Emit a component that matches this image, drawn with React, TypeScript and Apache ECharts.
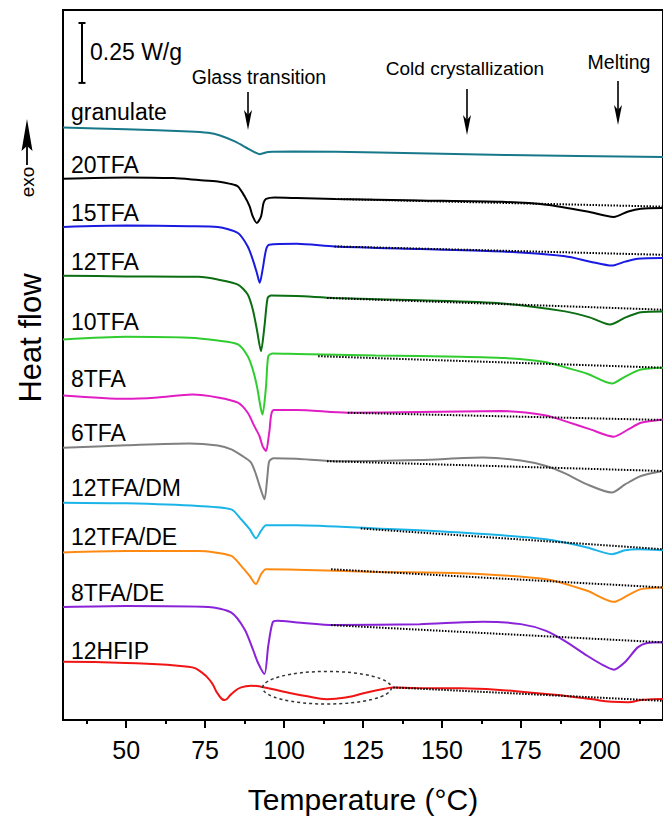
import React, { useEffect, useRef } from "react";
import * as echarts from "echarts";

// Heat flow (W/g, curves offset for display) versus temperature (°C)
const sampleNames = ["granulate", "20TFA", "15TFA", "12TFA", "10TFA", "8TFA", "6TFA", "12TFA/DM", "12TFA/DE", "8TFA/DE", "12HFIP"];
const sampleColors = ["#17788a", "#000000", "#1a1ae0", "#0b6e12", "#30cc30", "#e01ec4", "#808080", "#1ab4e8", "#ff8a12", "#8a22d8", "#f01414"];
const labelY = [112, 165, 213, 262, 322, 379, 433, 488, 537, 593, 651];

const granulate = [[30, 2.472], [50, 2.465], [70, 2.456], [76, 2.45], [79.5, 2.44], [84.4, 2.414], [89.7, 2.376], [92.3, 2.361], [95, 2.37], [103, 2.372], [130, 2.368], [170, 2.358], [220, 2.349]];
const tfa20 = [[30, 2.258], [50, 2.264], [65, 2.261], [73, 2.253], [79, 2.247], [83, 2.237], [85.4, 2.226], [87.5, 2.185], [89.1, 2.143], [90.1, 2.101], [91.4, 2.074], [92.7, 2.101], [93.5, 2.157], [94.3, 2.174], [97, 2.18], [104, 2.178], [116, 2.174], [143, 2.168], [169, 2.162], [183, 2.15], [196, 2.122], [204.4, 2.099], [209, 2.122], [213, 2.133], [220, 2.136]];
const tfa15 = [[30, 2.057], [50, 2.063], [70, 2.06], [79, 2.057], [85.4, 2.032], [88.5, 1.976], [90.1, 1.921], [91.4, 1.865], [92.3, 1.824], [93.2, 1.879], [94.3, 1.9625], [95.3, 1.983], [104, 1.9875], [116, 1.976], [143, 1.965], [169, 1.955], [189, 1.935], [197, 1.9125], [203.8, 1.896], [208, 1.9125], [212, 1.925], [220, 1.928]];
const tfa12 = [[30, 1.854], [50, 1.851], [72.8, 1.849], [79, 1.838], [85.4, 1.817], [88.5, 1.775], [90.1, 1.7125], [91.4, 1.629], [92.7, 1.539], [93.8, 1.643], [94.8, 1.761], [95.9, 1.771], [104, 1.769], [116, 1.761], [143, 1.751], [169, 1.738], [189, 1.705], [197, 1.679], [203.2, 1.65], [208, 1.679], [213, 1.701], [220, 1.705]];
const tfa10 = [[30, 1.588], [50, 1.599], [70, 1.595], [79, 1.583], [85.4, 1.567], [88.5, 1.518], [90.1, 1.4625], [91.4, 1.393], [92.7, 1.296], [93.2, 1.275], [94.3, 1.393], [95, 1.518], [96.4, 1.529], [104, 1.527], [129, 1.521], [156, 1.516], [170, 1.51], [183, 1.493], [190, 1.468], [196, 1.445], [203.8, 1.404], [208, 1.433], [213, 1.4625], [220, 1.47]];
const tfa8 = [[30, 1.354], [50, 1.34], [60, 1.346], [71, 1.358], [79, 1.346], [85.4, 1.324], [88.5, 1.282], [90.6, 1.226], [92.2, 1.185], [93.2, 1.143], [94.3, 1.122], [95.3, 1.199], [96.7, 1.293], [104, 1.294], [120, 1.282], [143, 1.285], [169, 1.289], [183, 1.271], [189, 1.247], [197, 1.2125], [204.4, 1.182], [209, 1.2125], [213, 1.24], [220, 1.254]];
const tfa6 = [[30, 1.136], [50, 1.146], [70, 1.154], [79, 1.145], [83.3, 1.129], [87, 1.1], [89.5, 1.075], [91, 1.029], [92.3, 0.975], [93.8, 0.921], [94.7, 1.0125], [95.3, 1.079], [96.7, 1.092], [104, 1.09], [116, 1.08], [143, 1.085], [163, 1.095], [175, 1.083], [183, 1.06], [189, 1.029], [196, 0.983], [203.8, 0.949], [208, 0.983], [213, 1.018], [220, 1.039]];
const tfa12dm = [[30, 0.907], [50, 0.904], [72.8, 0.893], [83.3, 0.879], [86.4, 0.8375], [89.1, 0.796], [91.1, 0.758], [92.7, 0.789], [94.3, 0.8125], [104, 0.8125], [129, 0.799], [156, 0.782], [183, 0.754], [196, 0.72], [203.8, 0.692], [208, 0.708], [212, 0.7125], [220, 0.708]];
const tfa12de = [[30, 0.699], [50, 0.705], [72.8, 0.705], [83.3, 0.685], [86.4, 0.643], [89.1, 0.601], [91.1, 0.567], [92.7, 0.608], [94.3, 0.629], [104, 0.627], [129, 0.618], [156, 0.6125], [183, 0.5875], [196, 0.539], [204.4, 0.493], [209, 0.521], [213, 0.546], [220, 0.553]];
const tfa8de = [[30, 0.472], [50, 0.476], [76, 0.472], [83.2, 0.449], [87.5, 0.379], [90.1, 0.296], [91.7, 0.24], [93.8, 0.192], [95, 0.31], [96.4, 0.407], [97.9, 0.414], [104.2, 0.407], [116, 0.396], [143, 0.4], [163, 0.41], [175, 0.4], [183, 0.372], [189, 0.329], [196, 0.268], [201, 0.229], [204.4, 0.21], [208, 0.242], [212, 0.303], [215, 0.321], [220, 0.324]];
const hfip12 = [[30, 0.243], [50, 0.2375], [69.7, 0.222], [73.9, 0.199], [77, 0.157], [79.1, 0.108], [81.2, 0.083], [83.3, 0.108], [86.4, 0.136], [89.6, 0.143], [92.7, 0.139], [101.1, 0.115], [107.4, 0.099], [113.6, 0.087], [119.9, 0.095], [126.2, 0.115], [132.5, 0.132], [134.6, 0.136], [141.9, 0.133], [156, 0.132], [183, 0.108], [197, 0.0875], [203.8, 0.076], [209, 0.074], [213, 0.083], [220, 0.0875]];

const curves = [granulate, tfa20, tfa15, tfa12, tfa10, tfa8, tfa6, tfa12dm, tfa12de, tfa8de, hfip12];
const curveSmoothing = [0.25, 0.25, 0.25, 0.25, 0.25, 0.25, 0.25, 0.25, 0.25, 0.25, 0.5];

// dotted baselines (tangents) drawn under the crystallization / melting regions
const baseline20 = [[116, 2.174], [220, 2.142]];
const baseline15 = [[116, 1.976], [220, 1.941]];
const baseline12 = [[113.6, 1.761], [220, 1.712]];
const baseline10 = [[110.8, 1.518], [220, 1.47]];
const baseline8 = [[120.2, 1.282], [220, 1.252]];
const baseline6 = [[113.6, 1.08], [220, 1.039]];
const baseline12dm = [[124.3, 0.799], [220, 0.7125]];
const baseline12de = [[114.9, 0.629], [220, 0.553]];
const baseline8de = [[114.9, 0.396], [220, 0.324]];
const baselineHfip = [[134.6, 0.136], [220, 0.08]];
const baselines = [baseline20, baseline15, baseline12, baseline10, baseline8, baseline6, baseline12dm, baseline12de, baseline8de, baselineHfip];

const majorTicks = [50, 75, 100, 125, 150, 175, 200];
const minorTicks = [37.5, 62.5, 87.5, 112.5, 137.5, 162.5, 187.5, 212.5];
const scaleBarValue = 0.25; // W/g
const ellipseCenter = [113.6, 0.1346];
const ellipseHalfWidth = 20.4; // °C
const ellipseHalfHeight = 0.068; // W/g

const FONT = "Liberation Sans, Arial, Helvetica, sans-serif";

function arrowDown(x: number, y1: number, y2: number) {
  return [
    { type: "line", shape: { x1: x, y1: y1, x2: x, y2: y2 - 12 }, style: { stroke: "#000", lineWidth: 1.6 } },
    { type: "polygon", shape: { points: [[x, y2], [x - 4, y2 - 20], [x, y2 - 15], [x + 4, y2 - 20]] }, style: { fill: "#000" } },
  ];
}

export default function App() {
  const ref = useRef<HTMLDivElement>(null);
  useEffect(() => {
    if (!ref.current) return;
    const chart = echarts.init(ref.current, null, { renderer: "svg" });
    const series: any[] = [];
    curves.forEach((c, i) => {
      series.push({
        type: "line",
        name: sampleNames[i],
        data: c,
        showSymbol: false,
        smooth: curveSmoothing[i],
        lineStyle: { color: sampleColors[i], width: 2 },
        itemStyle: { color: sampleColors[i] },
        z: 2,
      });
    });
    baselines.forEach((b) => {
      series.push({
        type: "line",
        data: b,
        showSymbol: false,
        lineStyle: { color: "#000", width: 2, type: [1.5, 1.5] },
        z: 3,
      });
    });
    chart.setOption({
      animation: false,
      grid: { left: 63, top: 10, right: -6, bottom: 98, show: true, borderColor: "#000", borderWidth: 2 },
      xAxis: [
        {
          type: "value",
          min: 30,
          max: 220,
          position: "bottom",
          axisLine: { show: true, lineStyle: { color: "#000", width: 2 } },
          axisTick: { show: true, customValues: majorTicks, length: 8, lineStyle: { color: "#000", width: 2 } },
          axisLabel: { customValues: majorTicks, fontSize: 25, color: "#000", fontFamily: FONT, margin: 17 },
          splitLine: { show: false },
          name: "Temperature (°C)",
          nameLocation: "middle",
          nameGap: 64,
          nameTextStyle: { fontSize: 30, color: "#000", fontFamily: FONT },
        },
        {
          type: "value",
          min: 30,
          max: 220,
          position: "bottom",
          axisLine: { show: false },
          axisTick: { show: true, customValues: minorTicks, length: 4, lineStyle: { color: "#000", width: 2 } },
          axisLabel: { show: false },
          splitLine: { show: false },
        },
      ],
      yAxis: {
        type: "value",
        min: 0,
        max: 2.9625,
        axisLine: { show: true, lineStyle: { color: "#000", width: 2 } },
        axisTick: { show: false },
        axisLabel: { show: false },
        splitLine: { show: false },
      },
      series,
    });

    const p0 = chart.convertToPixel({ gridIndex: 0 }, [40, 0]) as number[];
    const p1 = chart.convertToPixel({ gridIndex: 0 }, [40, scaleBarValue]) as number[];
    const barLen = p0[1] - p1[1];
    const barTop = 23;
    const bx = 82;
    const ec = chart.convertToPixel({ gridIndex: 0 }, ellipseCenter) as number[];
    const ee = chart.convertToPixel({ gridIndex: 0 }, [ellipseCenter[0] + ellipseHalfWidth, ellipseCenter[1] + ellipseHalfHeight]) as number[];

    const graphics: any[] = [
      { type: "line", shape: { x1: bx, y1: barTop, x2: bx, y2: barTop + barLen }, style: { stroke: "#000", lineWidth: 2 } },
      { type: "line", shape: { x1: bx - 3.5, y1: barTop, x2: bx + 3.5, y2: barTop }, style: { stroke: "#000", lineWidth: 2 } },
      { type: "line", shape: { x1: bx - 3.5, y1: barTop + barLen, x2: bx + 3.5, y2: barTop + barLen }, style: { stroke: "#000", lineWidth: 2 } },
      { type: "text", x: 90, y: 52, style: { text: "0.25 W/g", fill: "#000", font: `23px ${FONT}`, verticalAlign: "middle", align: "left" } },
      { type: "text", x: 259, y: 77, style: { text: "Glass transition", fill: "#000", font: `19.5px ${FONT}`, verticalAlign: "middle", align: "center" } },
      { type: "text", x: 465, y: 68, style: { text: "Cold crystallization", fill: "#000", font: `19px ${FONT}`, verticalAlign: "middle", align: "center" } },
      { type: "text", x: 619, y: 62, style: { text: "Melting", fill: "#000", font: `19.5px ${FONT}`, verticalAlign: "middle", align: "center" } },
      ...arrowDown(248, 92, 130),
      ...arrowDown(467, 89, 135),
      ...arrowDown(618, 81, 125),
      { type: "text", x: 30, y: 338, rotation: Math.PI / 2, style: { text: "Heat flow", fill: "#000", font: `31px ${FONT}`, align: "center", verticalAlign: "middle" } },
      { type: "text", x: 27, y: 182, rotation: Math.PI / 2, style: { text: "exo", fill: "#000", font: `19px ${FONT}`, align: "center", verticalAlign: "middle" } },
      { type: "line", shape: { x1: 27, y1: 165, x2: 27, y2: 142 }, style: { stroke: "#000", lineWidth: 1.8 } },
      { type: "polygon", shape: { points: [[27, 119], [21.5, 151], [27, 146], [32.5, 151]] }, style: { fill: "#000" } },
      {
        type: "ellipse",
        shape: { cx: ec[0], cy: ec[1], rx: Math.abs(ee[0] - ec[0]), ry: Math.abs(ec[1] - ee[1]) },
        style: { fill: "none", stroke: "#333", lineWidth: 1.5, lineDash: [3, 3] },
        z: 10,
      },
    ];
    sampleNames.forEach((n, i) => {
      graphics.push({ type: "text", x: 71, y: labelY[i], style: { text: n, fill: "#000", font: `23px ${FONT}`, verticalAlign: "middle", align: "left" } });
    });
    chart.setOption({ graphic: graphics });

    return () => chart.dispose();
  }, []);
  return <div ref={ref} style={{ position: "absolute", left: 0, top: 0, width: 663, height: 819 }} />;
}
